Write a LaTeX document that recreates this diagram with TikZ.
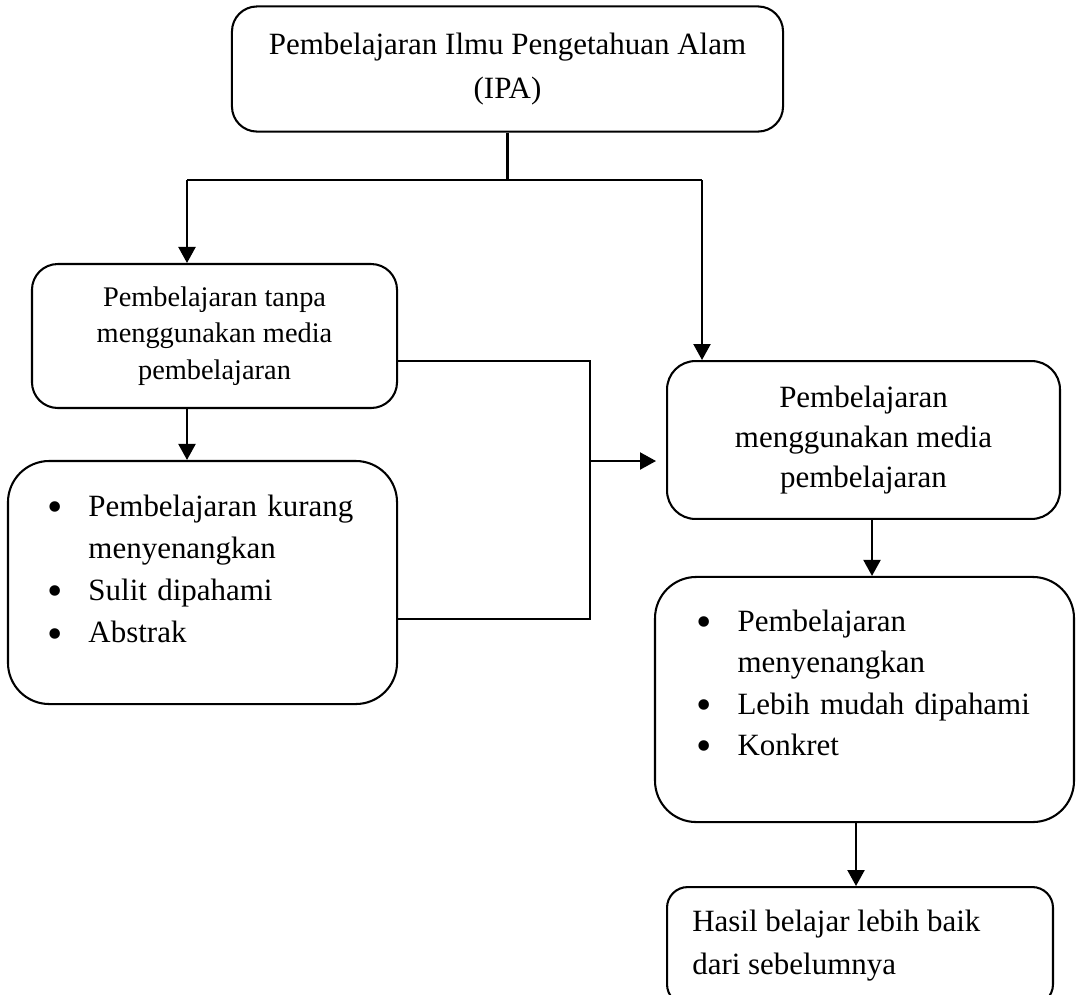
\documentclass[tikz,border=0pt]{standalone}
\usepackage{fontspec}
\setmainfont{Liberation Serif}
\usetikzlibrary{arrows.meta,positioning}

\tikzset{
  kotak/.style={draw,rounded corners=#1,inner sep=0pt},
  isi/.style={inner sep=0pt,align=left},
  panah/.style={-{Triangle[length=6.2pt,width=6.6pt]}}
}
% satu butir daftar dengan tanda bulat
\newcommand{\butir}[2][15.9pt]{\par\hangindent=#1\hangafter=1\noindent\makebox[#1][l]{\raisebox{-2pt}{\fontsize{17}{17}\selectfont\textbullet}}#2}

\begin{document}
\begin{tikzpicture}[x=0.3876pt,y=-0.3876pt,line width=0.8pt]
\useasboundingbox (0,0) rectangle (1076,994);

% kotak-kotak
\node[kotak=9.7pt,minimum width=213.6pt,minimum height=48.5pt,align=center,font=\fontsize{12}{17.4}\selectfont] (top) at (507.5,69) {Pembelajaran Ilmu Pengetahuan Alam\\(IPA)};
\node[kotak=10pt,minimum width=141.5pt,minimum height=55.8pt,align=center,font=\fontsize{11}{14.1}\selectfont] (tanpa) at (214.5,336) {Pembelajaran tanpa\\menggunakan media\\pembelajaran};
\node[kotak=16pt,minimum width=150.8pt,minimum height=94.2pt] (ciritanpa) at (202.5,582.5) {};
\node[kotak=11pt,minimum width=152.3pt,minimum height=61.2pt,align=center,font=\fontsize{12}{15.5}\selectfont] (media) at (863.5,440) {Pembelajaran\\menggunakan media\\pembelajaran};
\node[kotak=16pt,minimum width=162.4pt,minimum height=95pt] (cirimedia) at (864.5,699.5) {};
\node[kotak=8pt,minimum width=149.6pt,minimum height=45.7pt,text width=130pt,inner xsep=9.7pt,align=flush left,font=\fontsize{12}{16.7}\selectfont] (hasil) at (860,946) {Hasil belajar lebih baik\\dari sebelumnya};

% isi daftar
\node[isi,anchor=north west,text width=130pt,font=\fontsize{12}{16.3}\selectfont] (ciritanpaisi) at ([xshift=15.3pt,yshift=-5.3pt]ciritanpa.north west)
  {\raggedright\butir{Pembelajaran kurang\newline menyenangkan}\butir{Sulit dipahami}\butir{Abstrak}};
\node[isi,anchor=north west,text width=140pt,font=\fontsize{12}{16.0}\selectfont] (cirimediaisi) at ([xshift=16.1pt,yshift=-5.2pt]cirimedia.north west)
  {\raggedright\butir{Pembelajaran\newline menyenangkan}\butir{Lebih mudah dipahami}\butir{Konkret}};

% titik bantu
\coordinate (cabang) at (507.5,180);
\coordinate (kiri) at (187,180);
\coordinate (kanan) at (702,180);
\coordinate (keluarA) at (397,361);
\coordinate (keluarB) at (397,619);
\coordinate (gabung) at (590,461);
\coordinate (masuk) at (656,461);
\coordinate (turunC) at (872,0);
\coordinate (turunD) at (856,0);

% garis
\draw (top.south) -- (cabang);
\draw (kiri) -- (kanan);
\draw[panah] (kiri) -- (kiri |- tanpa.north);
\draw[panah] (kanan) -- (kanan |- media.north);
\draw[panah] (kiri |- tanpa.south) -- (kiri |- ciritanpa.north);
\draw (keluarA) -| (gabung) |- (keluarB);
\draw[panah] (gabung) -- (masuk);
\draw[panah] (turunC |- media.south) -- (turunC |- cirimedia.north);
\draw[panah] (turunD |- cirimedia.south) -- (turunD |- hasil.north);
\end{tikzpicture}
\end{document}
